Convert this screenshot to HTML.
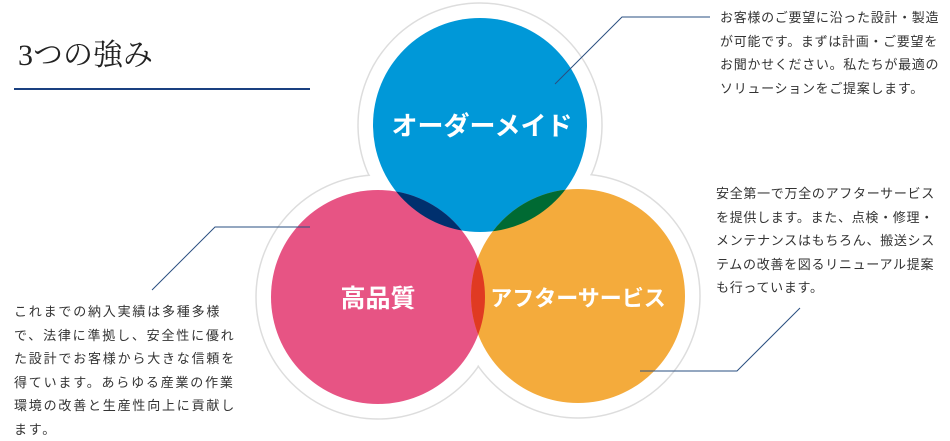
<!DOCTYPE html>
<html><head><meta charset="utf-8"><style>
body{margin:0;width:950px;height:437px;background:#fff;position:relative;overflow:hidden;font-family:"Liberation Sans","Noto Sans CJK JP",sans-serif;color:#333}
.t{position:absolute;font-size:13px;line-height:23.5px;white-space:nowrap;letter-spacing:0.7px}
h1{position:absolute;left:18px;top:30px;margin:0;font-family:"Liberation Serif","Noto Serif CJK SC",serif;font-weight:normal;font-size:30px;color:#222}
</style></head><body>
<h1>3つの強み</h1>
<div style="position:absolute;left:14px;top:88px;width:296px;height:2px;background:#1a4080"></div>
<svg width="950" height="437" style="position:absolute;left:0;top:0">
<defs>
<clipPath id="cb"><circle cx="480" cy="125" r="107"/></clipPath>
<clipPath id="cp"><circle cx="378" cy="297" r="107"/></clipPath>
</defs>
<g fill="#fff" stroke="#ddd" stroke-width="1.5">
<circle cx="480" cy="125" r="122"/><circle cx="378" cy="297" r="122"/><circle cx="578" cy="296" r="122"/>
</g>
<g fill="#fff"><circle cx="480" cy="125" r="121"/><circle cx="378" cy="297" r="121"/><circle cx="578" cy="296" r="121"/></g>
<circle cx="480" cy="125" r="107" fill="#0098d8"/>
<circle cx="378" cy="297" r="107" fill="#e75484"/>
<circle cx="578" cy="296" r="107" fill="#f4ab3c"/>
<circle cx="378" cy="297" r="107" fill="#00306e" clip-path="url(#cb)"/>
<circle cx="578" cy="296" r="107" fill="#006a33" clip-path="url(#cb)"/>
<circle cx="578" cy="296" r="107" fill="#e03a22" clip-path="url(#cp)"/>
<g fill="none" stroke="#2a4f80" stroke-width="1">
<polyline points="555,84 622,17 710,17"/>
<polyline points="310,227 215,227 152,290"/>
<polyline points="640,371 737,371 800,308"/>
</g>
<g fill="#fff" font-weight="bold" font-family="Liberation Sans,Noto Sans CJK JP,sans-serif" text-anchor="middle">
<text x="482" y="135" font-size="26">オーダーメイド</text>
<text x="378" y="307" font-size="25">高品質</text>
<text x="578" y="306" font-size="22">アフターサービス</text>
</g>
</svg>
<div class="t" style="left:720px;top:6px">お客様のご要望に沿った設計・製造<br>が可能です。まずは計画・ご要望を<br>お聞かせください。私たちが最適の<br>ソリューションをご提案します。</div>
<div class="t" style="left:716px;top:182px">安全第一で万全のアフターサービス<br>を提供します。また、点検・修理・<br>メンテナンスはもちろん、搬送シス<br>テムの改善を図るリニューアル提案<br>も行っています。</div>
<div class="t" style="left:14px;top:300px;letter-spacing:1.8px">これまでの納入実績は多種多様<br>で、法律に準拠し、安全性に優れ<br>た設計でお客様から大きな信頼を<br>得ています。あらゆる産業の作業<br>環境の改善と生産性向上に貢献し<br>ます。</div>
</body></html>
